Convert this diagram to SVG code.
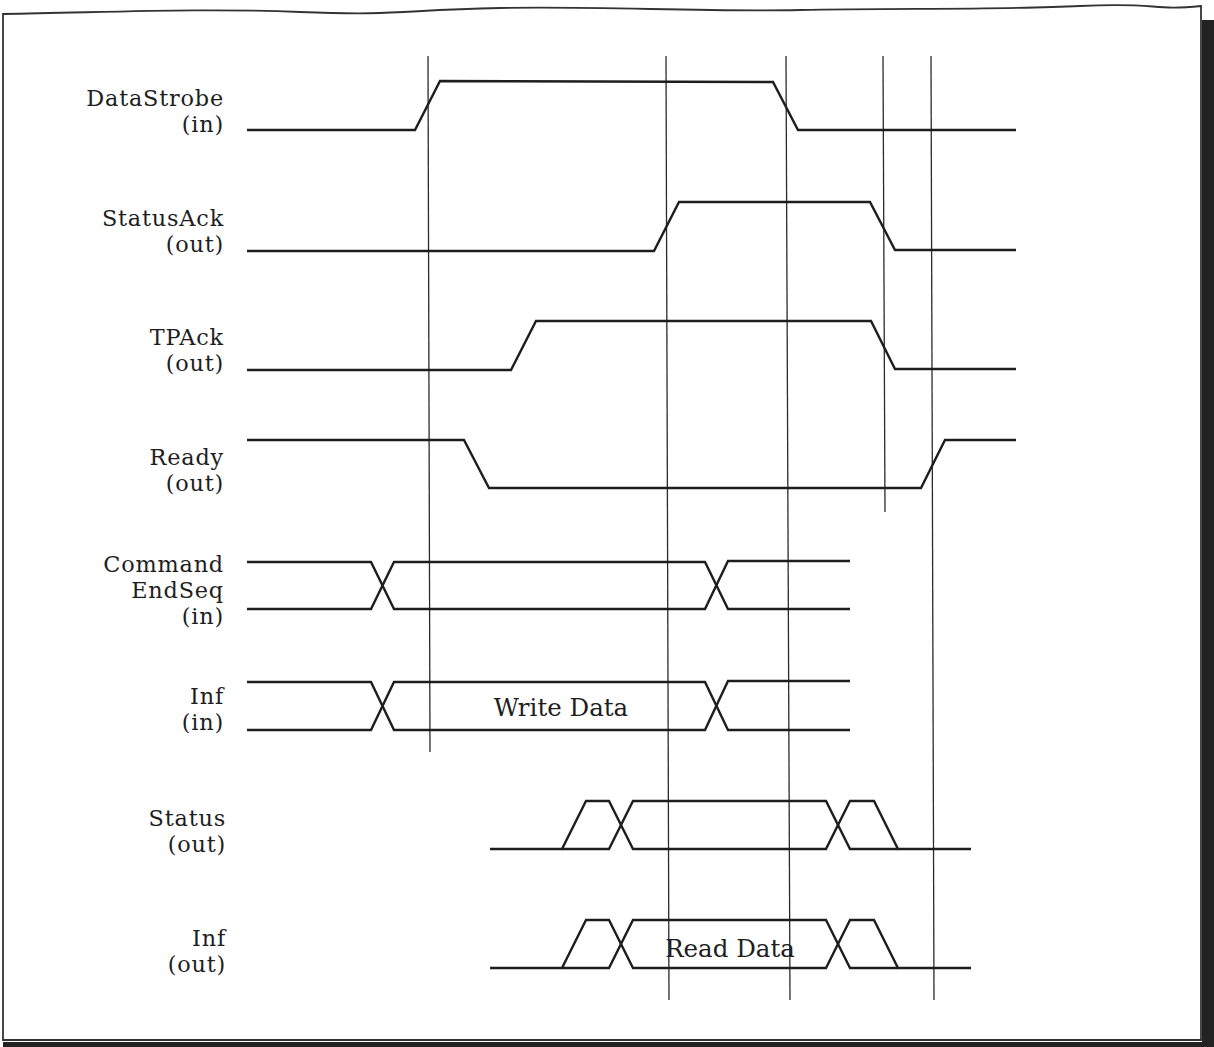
<svg xmlns="http://www.w3.org/2000/svg" width="1214" height="1047" viewBox="0 0 1214 1047">
<style>
  .lbl { font-family: "DejaVu Serif", "Liberation Serif", serif; font-size: 22.4px; letter-spacing: 0.8px; fill: #1e1e1e; text-anchor: end; }
  .bus { font-family: "DejaVu Serif", "Liberation Serif", serif; font-size: 24.5px; fill: #1e1e1e; text-anchor: middle; }
  .sig { fill: none; stroke: #1e1e1e; stroke-width: 2.4; stroke-linejoin: miter; }
  .mark { fill: none; stroke: #2a2a2a; stroke-width: 1.3; }
  .frame { fill: none; stroke: #333; stroke-width: 1.8; }
</style>
<rect width="1214" height="1047" fill="#ffffff"/>
<g id="frame">
  <rect x="1202" y="20" width="12" height="1027" fill="#222"/>
  <rect x="3" y="1042" width="1211" height="5" fill="#222"/>
  <path class="frame" d="M3,14 C120,12 200,8 300,12 S400,10 500,8 S700,12 800,10 S1000,10 1080,6 S1150,11 1201,6 L1201,1040 L3,1040 Z"/>
</g>
<g id="markers">
  <line class="mark" x1="428" y1="56" x2="430" y2="752"/>
  <line class="mark" x1="666" y1="56" x2="669" y2="1000"/>
  <line class="mark" x1="786" y1="56" x2="790" y2="1000"/>
  <line class="mark" x1="883" y1="56" x2="885" y2="512"/>
  <line class="mark" x1="931" y1="56" x2="934" y2="1000"/>
</g>
<g id="datastrobe">
  <text class="lbl" x="224" y="106">DataStrobe<tspan x="224" dy="26.2">(in)</tspan></text>
  <path class="sig" d="M247,130 L415,130 L440,81 L773,82 L798,130 L1016,130"/>
</g>
<g id="statusack">
  <text class="lbl" x="224" y="226">StatusAck<tspan x="224" dy="26.2">(out)</tspan></text>
  <path class="sig" d="M247,251 L654,251 L679,202 L870,202 L895,250 L1016,250"/>
</g>
<g id="tpack">
  <text class="lbl" x="224" y="345">TPAck<tspan x="224" dy="26.2">(out)</tspan></text>
  <path class="sig" d="M247,370 L511,370 L536,321 L871,321 L895,369 L1016,369"/>
</g>
<g id="ready">
  <text class="lbl" x="224" y="465">Ready<tspan x="224" dy="26.2">(out)</tspan></text>
  <path class="sig" d="M247,440 L464,440 L489,488 L921,488 L945,440 L1016,440"/>
</g>
<g id="command">
  <text class="lbl" x="224" y="572">Command<tspan x="224" dy="26.2">EndSeq</tspan><tspan x="224" dy="26.2">(in)</tspan></text>
  <path class="sig" d="M247,562 L371,562 L394,609 L705,609 L728,561 L850,561"/>
  <path class="sig" d="M247,609 L371,609 L394,562 L705,562 L728,609 L850,609"/>
</g>
<g id="inf-in">
  <text class="lbl" x="224" y="704">Inf<tspan x="224" dy="26.2">(in)</tspan></text>
  <path class="sig" d="M247,682 L371,682 L394,730 L705,730 L728,681 L850,681"/>
  <path class="sig" d="M247,730 L371,730 L394,682 L705,682 L728,730 L850,730"/>
  <text class="bus" x="561" y="716">Write Data</text>
</g>
<g id="status">
  <text class="lbl" x="226" y="826">Status<tspan x="226" dy="26.2">(out)</tspan></text>
  <path class="sig" d="M490,849 L562,849 L586,801 L609,801 L633,849 L826,849 L850,801 L874,801 L898,849 L971,849"/>
  <path class="sig" d="M562,849 L609,849 L633,801 L826,801 L850,849 L898,849"/>
</g>
<g id="inf-out">
  <text class="lbl" x="226" y="946">Inf<tspan x="226" dy="26.2">(out)</tspan></text>
  <path class="sig" d="M490,968 L562,968 L586,920 L609,920 L633,968 L826,968 L850,920 L874,920 L898,968 L971,968"/>
  <path class="sig" d="M562,968 L609,968 L633,920 L826,920 L850,968 L898,968"/>
  <text class="bus" x="730" y="957">Read Data</text>
</g>
</svg>
